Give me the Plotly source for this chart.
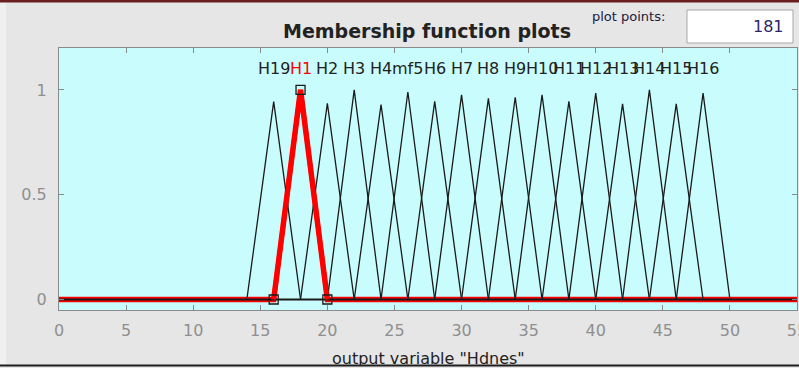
import plotly.graph_objects as go

# ---- data ----
mf_names = ["H19", "H1", "H2", "H3", "H4", "mf5", "H6", "H7", "H8", "H9",
            "H10", "H11", "H12", "H13", "H14", "H15", "H16"]
mf_left = [14, 16, 18, 20, 22, 24, 26, 28, 30, 32, 34, 36, 38, 40, 42, 44, 46]
mf_peak = [16, 18, 20, 22, 24, 26, 28, 30, 32, 34, 36, 38, 40, 42, 44, 46, 48]
mf_right = [18, 20, 22, 24, 26, 28, 30, 32, 34, 36, 38, 40, 42, 44, 46, 48, 50]
mf_height = [0.944, 1.0, 0.936, 1.0, 0.93, 0.99, 0.945, 0.976, 0.96, 0.965,
             0.976, 0.945, 0.985, 0.933, 1.0, 0.933, 0.985]
selected = "H1"
var_range = [0, 55]
x_ticks = [0, 5, 10, 15, 20, 25, 30, 35, 40, 45, 50, 55]
y_ticks = [0, 0.5, 1]
y_tick_text = ["0", "0.5", "1"]
plot_points = "181"
title_text = "Membership function plots"
xlabel_text = 'output variable "Hdnes"'

FONT = "DejaVu Sans"
fig = go.Figure()

si = mf_names.index(selected)


def mf_xy(i):
    return ([var_range[0], mf_left[i], mf_peak[i], mf_right[i], var_range[1]],
            [0, 0, mf_height[i], 0, 0])


# selected MF drawn thick red (full range) first
sx, sy = mf_xy(si)
fig.add_trace(go.Scatter(x=sx, y=sy, mode="lines",
                         line=dict(color="#ff0000", width=5.5),
                         hoverinfo="skip", showlegend=False))
# all other MFs in black (triangles)
for i in range(len(mf_names)):
    if i == si:
        continue
    fig.add_trace(go.Scatter(x=[mf_left[i], mf_peak[i], mf_right[i]],
                             y=[0, mf_height[i], 0], mode="lines",
                             line=dict(color="#1a1a1a", width=1.3),
                             hoverinfo="skip", showlegend=False))
# single black baseline over the whole variable range
fig.add_trace(go.Scatter(x=var_range, y=[0, 0], mode="lines",
                         line=dict(color="#1a1a1a", width=1.8),
                         hoverinfo="skip", showlegend=False))
# red triangle on top
fig.add_trace(go.Scatter(x=[mf_left[si], mf_peak[si], mf_right[si]],
                         y=[0, mf_height[si], 0], mode="lines",
                         line=dict(color="#ff0000", width=4.5),
                         hoverinfo="skip", showlegend=False))
# square vertex markers
fig.add_trace(go.Scatter(x=[mf_left[si], mf_peak[si], mf_right[si]],
                         y=[0, mf_height[si], 0], mode="markers",
                         marker=dict(symbol="square-open", size=9,
                                     color="#1a1a1a", line=dict(width=1.3)),
                         hoverinfo="skip", showlegend=False))

annotations = []
for i, name in enumerate(mf_names):
    annotations.append(dict(x=mf_peak[i], y=1.1, xref="x", yref="y",
                            text=name, showarrow=False,
                            font=dict(family=FONT, size=16,
                                      color="#ff0000" if i == si else "#222222"),
                            xanchor="center", yanchor="middle"))

W, H = 799, 368
ML, MR, MT, MB = 59, 2, 48, 58
pw, ph = W - ML - MR, H - MT - MB


def px(x):
    return (x - ML) / pw


def py(ytop):
    return (H - ytop - MB) / ph


# title
annotations.append(dict(x=px(427), y=py(31), xref="paper", yref="paper",
                        text="<b>" + title_text + "</b>", showarrow=False,
                        font=dict(family=FONT, size=19, color="#222222"),
                        xanchor="center", yanchor="middle"))
# plot points label
annotations.append(dict(x=px(628), y=py(17), xref="paper", yref="paper",
                        text="plot points:", showarrow=False,
                        font=dict(family=FONT, size=13, color="#202040"),
                        xanchor="center", yanchor="middle"))
# edit box value
annotations.append(dict(x=px(786), y=py(27), xref="paper", yref="paper",
                        text=plot_points, showarrow=False,
                        font=dict(family=FONT, size=16, color="#2e2566"),
                        xanchor="right", yanchor="middle"))
# x label
annotations.append(dict(x=px(428), y=py(358), xref="paper", yref="paper",
                        text=xlabel_text, showarrow=False,
                        font=dict(family=FONT, size=16, color="#222222"),
                        xanchor="center", yanchor="middle"))
# bottom bar as annotation so it sits above x label
annotations.append(dict(x=px(-1), y=py(364), xref="paper", yref="paper",
                        text="", showarrow=False, width=805, height=2,
                        bgcolor="#1e1e1e", xanchor="left", yanchor="top",
                        borderpad=0))
annotations.append(dict(x=px(-1), y=py(366), xref="paper", yref="paper",
                        text="", showarrow=False, width=805, height=3,
                        bgcolor="#e6e6e6", xanchor="left", yanchor="top",
                        borderpad=0))

shapes = [
    dict(type="rect", xref="paper", yref="paper", x0=px(0), x1=px(6),
         y0=py(368), y1=py(2), fillcolor="#f0f0f0", line=dict(width=0),
         layer="below"),
    dict(type="rect", xref="paper", yref="paper", x0=px(0), x1=px(799),
         y0=py(2.5), y1=py(0), fillcolor="#6a1f1f", line=dict(width=0),
         layer="below"),
    dict(type="rect", xref="paper", yref="paper", x0=px(687), x1=px(793),
         y0=py(43), y1=py(10), fillcolor="#ffffff",
         line=dict(color="#a8a8a8", width=1), layer="below"),
]

axis_common = dict(showgrid=False, zeroline=False, showline=True,
                   linecolor="#8a8a8a", linewidth=1, mirror="ticks",
                   ticks="inside", ticklen=5, tickcolor="#8a8a8a",
                   ticklabeloverflow="allow", automargin=False,
                   tickfont=dict(family=FONT, size=16, color="#8f8f8f"))

fig.update_layout(
    width=W, height=H, autosize=False,
    margin=dict(l=ML, r=MR, t=MT, b=MB, pad=0, autoexpand=False),
    paper_bgcolor="#e6e6e6", plot_bgcolor="#c9fdfd",
    xaxis=dict(range=var_range, tickvals=x_ticks, **axis_common),
    yaxis=dict(range=[-0.05, 1.2], tickvals=y_ticks, ticktext=y_tick_text,
               **axis_common),
    annotations=annotations, shapes=shapes,
    showlegend=False,
)
fig.update_xaxes(ticklabelstandoff=6)
fig.update_yaxes(ticklabelstandoff=8)

fig.write_html("out.html")
